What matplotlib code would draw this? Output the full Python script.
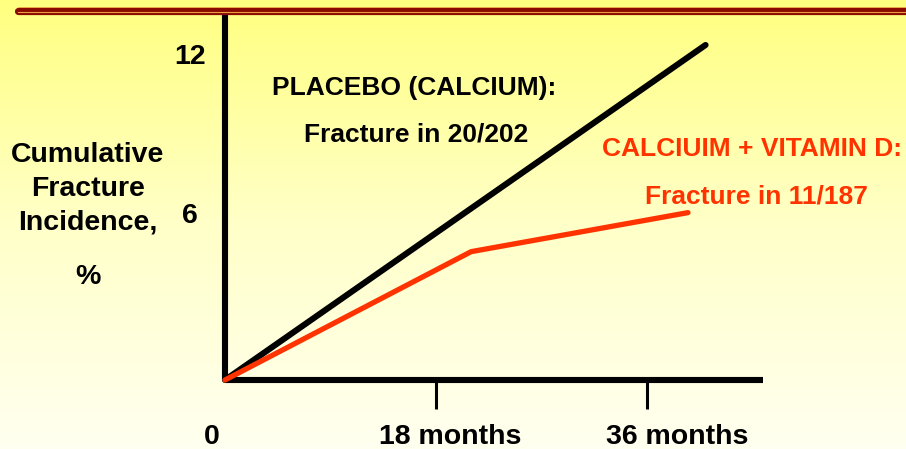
import numpy as np
import matplotlib.pyplot as plt
from matplotlib.colors import LinearSegmentedColormap
from matplotlib.lines import Line2D

# Dane (miesiące, skumulowana częstość złamań w %)
placebo_months = [0, 41.0]
placebo_values = [0, 12.45]
vitd_months = [0, 21.0, 39.5]
vitd_values = [0, 4.77, 6.22]

x_tick_pos = [18, 36]
x_tick_labels = ["0", "18 months", "36 months"]
x_label_pos = [-1.1, 19.2, 38.6]
y_tick_labels = ["12", "6"]
y_label_pos = [12.0, 6.1]

RED = "#FF3300"
FONT = "Liberation Sans"

fig = plt.figure(figsize=(9.06, 4.49), dpi=100)

# Tło - żółty gradient
bg = fig.add_axes([0, 0, 1, 1], zorder=-10)
grad = np.linspace(0, 1, 256).reshape(-1, 1)
cmap = LinearSegmentedColormap.from_list("bg", ["#FFFF80", "#FFFFC8", "#FFFFF0"])
bg.imshow(grad, aspect="auto", cmap=cmap, extent=[0, 1, 0, 1])
bg.set_axis_off()

# Czerwona linia u góry
W, H = 906, 449
def fy(py):
    return 1 - py / H
fig.add_artist(Line2D([18 / W, 1], [fy(10.5), fy(10.5)], color="#8B0A00", lw=5.2, solid_capstyle="round"))
fig.add_artist(Line2D([18 / W, 1], [fy(11.8), fy(11.8)], color="#E8A040", lw=0.8))
fig.add_artist(Line2D([18 / W, 1], [fy(7.2), fy(7.2)], color="#E8A040", lw=0.6))

# Wykres
ax = fig.add_axes([225 / W, 1 - 380 / H, (763 - 225) / W, (380 - 10) / H])
ax.patch.set_alpha(0)
ax.set_xlim(0, 45.9)
ax.set_ylim(0, 13.75)
for s in ["top", "right"]:
    ax.spines[s].set_visible(False)
for s in ["left", "bottom"]:
    ax.spines[s].set_linewidth(4.4)
    ax.spines[s].set_color("black")
    ax.spines[s].set_capstyle("butt")

ax.set_xticks(x_tick_pos)
ax.set_xticklabels([])
ax.tick_params(axis="x", length=21, width=2.2, direction="out", color="black")
ax.set_yticks([])

ax.plot(placebo_months, placebo_values, color="black", lw=4.4,
        solid_capstyle="round", clip_on=False, zorder=3)
ax.plot(vitd_months, vitd_values, color=RED, lw=3.8,
        solid_capstyle="round", solid_joinstyle="round", clip_on=False, zorder=4)

for pos, lab in zip(x_label_pos, x_tick_labels):
    ax.text(pos, -2.12, lab, ha="center", va="center", fontsize=20.5,
            fontweight="bold", family=FONT, clip_on=False)
for pos, lab in zip(y_label_pos, y_tick_labels):
    ax.text(-3.0, pos, lab, ha="center", va="center", fontsize=20.5,
            fontweight="bold", family=FONT, clip_on=False)

# Opis osi Y
for txt, py in [("Cumulative", 155), ("Fracture", 189), ("Incidence,", 222), ("%", 277)]:
    fig.text(88 / W, fy(py), txt, ha="center", va="center", fontsize=20.5,
             fontweight="bold", family=FONT)

# Adnotacje
fig.text(414 / W, fy(88), "PLACEBO (CALCIUM):", ha="center", va="center",
         fontsize=19, fontweight="bold", family=FONT)
fig.text(416 / W, fy(135), "Fracture in 20/202", ha="center", va="center",
         fontsize=19, fontweight="bold", family=FONT)
fig.text(752 / W, fy(149), "CALCIUIM + VITAMIN D:", ha="center", va="center",
         fontsize=19, fontweight="bold", family=FONT, color=RED)
fig.text(756 / W, fy(197), "Fracture in 11/187", ha="center", va="center",
         fontsize=19, fontweight="bold", family=FONT, color=RED)

fig.savefig("out.png", dpi=100)
